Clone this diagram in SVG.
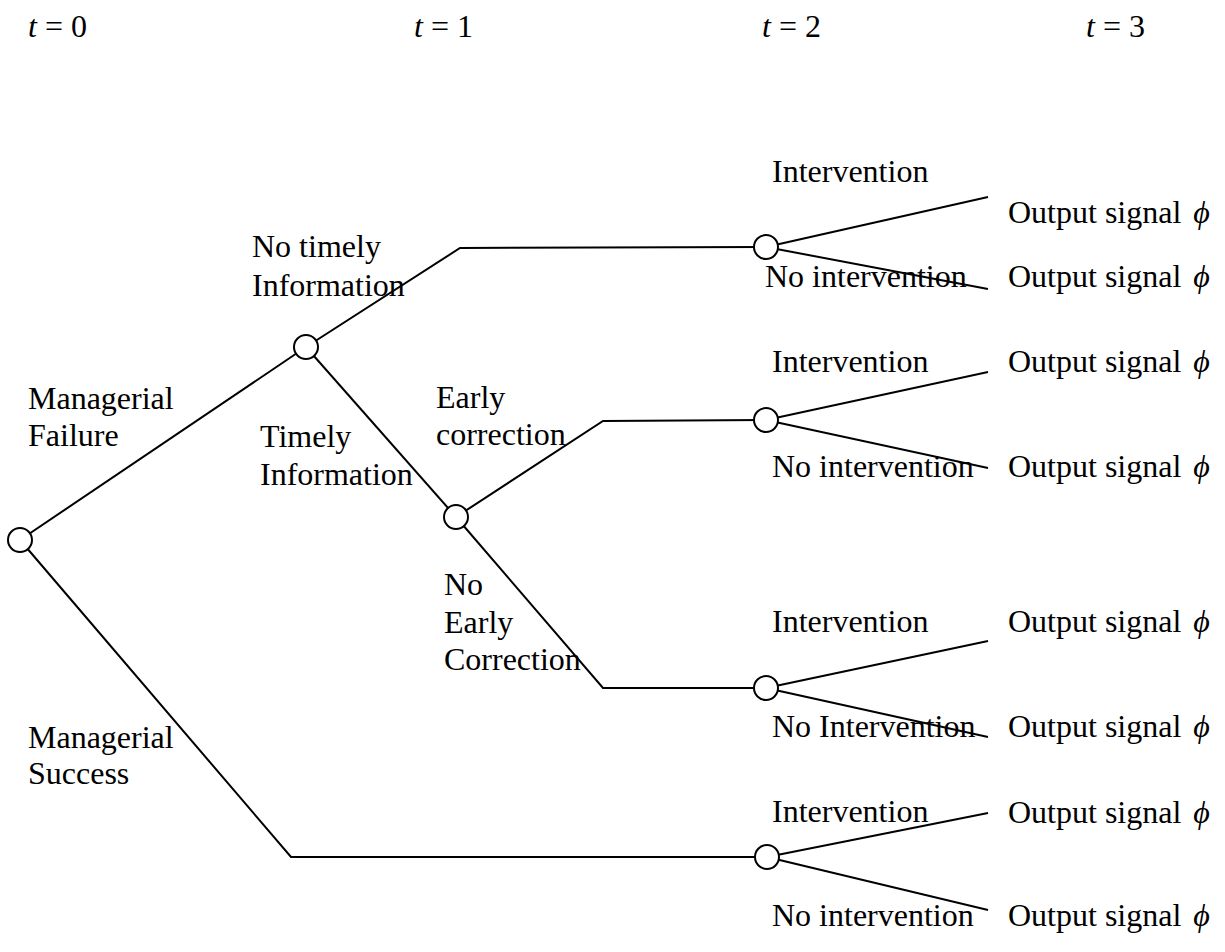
<svg xmlns="http://www.w3.org/2000/svg" width="1225" height="952" viewBox="0 0 1225 952">
<style>
text{font-family:"Liberation Serif","Times New Roman","DejaVu Serif",serif;font-size:32px;fill:#000}
.it{font-style:italic}
.ln{stroke:#000;stroke-width:2;fill:none}
.nd{stroke:#000;stroke-width:2;fill:#fff}
</style>
<rect width="1225" height="952" fill="#fff"/>
<g id="time-labels">
<text x="28" y="37"><tspan class="it">t</tspan> = 0</text>
<text x="414" y="37"><tspan class="it">t</tspan> = 1</text>
<text x="762" y="37"><tspan class="it">t</tspan> = 2</text>
<text x="1086" y="37"><tspan class="it">t</tspan> = 3</text>
</g>
<g id="connectors" class="ln">
<line x1="20" y1="540" x2="306" y2="347"/>
<polyline points="306,347 460,248 766,247"/>
<line x1="306" y1="347" x2="456" y2="517"/>
<polyline points="456,517 603,421 766,420"/>
<polyline points="456,517 603,688 766,688"/>
<polyline points="20,540 291,857 767,857"/>
<line x1="766" y1="247" x2="988" y2="197"/>
<line x1="766" y1="247" x2="988" y2="289"/>
<line x1="766" y1="420" x2="988" y2="372"/>
<line x1="766" y1="420" x2="988" y2="468"/>
<line x1="766" y1="688" x2="988" y2="641"/>
<line x1="766" y1="688" x2="988" y2="737"/>
<line x1="767" y1="857" x2="988" y2="813"/>
<line x1="767" y1="857" x2="988" y2="910"/>
</g>
<g id="root"><circle class="nd" cx="20" cy="540" r="12"/></g>
<g id="info-node"><circle class="nd" cx="306" cy="347" r="12"/></g>
<g id="correction-node"><circle class="nd" cx="456" cy="517" r="12"/></g>
<g id="decision-1"><circle class="nd" cx="766" cy="247" r="12"/></g>
<g id="decision-2"><circle class="nd" cx="766" cy="420" r="12"/></g>
<g id="decision-3"><circle class="nd" cx="766" cy="688" r="12"/></g>
<g id="decision-4"><circle class="nd" cx="767" cy="857" r="12"/></g>
<g id="branch-labels">
<text x="28" y="409">Managerial</text>
<text x="28" y="446">Failure</text>
<text x="252" y="257">No timely</text>
<text x="252" y="296">Information</text>
<text x="260" y="447">Timely</text>
<text x="260" y="485">Information</text>
<text x="436" y="408">Early</text>
<text x="436" y="445">correction</text>
<text x="444" y="595">No</text>
<text x="444" y="633">Early</text>
<text x="444" y="670">Correction</text>
<text x="28" y="748">Managerial</text>
<text x="28" y="784">Success</text>
<text x="772" y="182">Intervention</text>
<text x="765" y="287">No intervention</text>
<text x="772" y="372">Intervention</text>
<text x="772" y="477">No intervention</text>
<text x="772" y="632">Intervention</text>
<text x="772" y="737">No Intervention</text>
<text x="772" y="822">Intervention</text>
<text x="772" y="926">No intervention</text>
</g>
<g id="outcomes">
<text x="1008" y="223">Output signal <tspan class="it" dx="4">ϕ</tspan></text>
<text x="1008" y="287">Output signal <tspan class="it" dx="4">ϕ</tspan></text>
<text x="1008" y="372">Output signal <tspan class="it" dx="4">ϕ</tspan></text>
<text x="1008" y="477">Output signal <tspan class="it" dx="4">ϕ</tspan></text>
<text x="1008" y="632">Output signal <tspan class="it" dx="4">ϕ</tspan></text>
<text x="1008" y="737">Output signal <tspan class="it" dx="4">ϕ</tspan></text>
<text x="1008" y="823">Output signal <tspan class="it" dx="4">ϕ</tspan></text>
<text x="1008" y="926">Output signal <tspan class="it" dx="4">ϕ</tspan></text>
</g>
</svg>
